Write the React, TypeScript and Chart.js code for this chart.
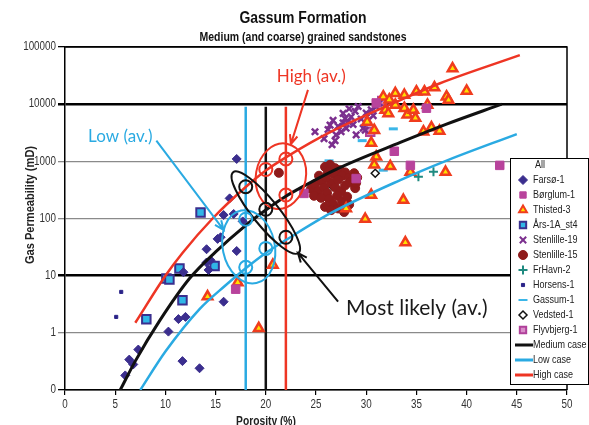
import React, { useEffect, useRef } from 'react';
import { Chart, registerables } from 'chart.js';
import { drawPoint } from 'chart.js/helpers';

Chart.register(...registerables);

// ---------------- data ----------------
const xMin = 0;
const xMax = 50;
const xStep = 5;
const yMin = 0.1;
const yMax = 100000;
const yTickValues = [0.1, 1, 10, 100, 1000, 10000, 100000];
const yTickLabels = ['0', '1', '10', '100', '1000', '10000', '100000'];

// trend curves (porosity %, permeability mD)
const mediumPorosity = [5.5, 7, 9.4, 12.4, 15, 18, 20, 22, 23.4, 27, 33.4, 38, 43.5];
const mediumPerm = [0.1, 0.32, 1.6, 8.9, 26, 76, 141, 245, 339, 724, 2140, 4470, 10000];
const lowPorosity = [7.5, 10, 13.4, 16, 18, 20, 22, 26.5, 33.4, 37.7, 45];
const lowPerm = [0.1, 0.47, 2.6, 6.8, 13.5, 25, 42, 125, 470, 980, 3000];
const highPorosity = [7, 10, 11.7, 14.7, 18, 20, 22, 26.5, 33.5, 37.3, 45.3];
const highPerm = [1.5, 10, 25, 100, 355, 690, 1175, 3300, 12000, 23000, 72000];

// average porosity cut-offs (low / medium / high)
const avgPorosities = [18, 20, 22];
const avgLinePerm = [0.1, 9000];

// wells
const farsoe = [[17.1, 1100], [16.4, 225], [15.8, 115], [16.8, 120], [17.7, 89], [15.2, 44], [15.5, 47], [14.1, 29], [17.1, 27], [14.5, 18.6], [14.1, 17], [14.3, 12.6], [11.8, 11.5], [15.8, 3.5], [12.0, 1.9], [11.3, 1.74], [10.3, 1.05], [7.3, 0.51], [6.4, 0.34], [6.8, 0.28], [6.0, 0.18], [11.7, 0.32], [13.4, 0.24]];
const borglum = [[17.0, 5.8], [23.8, 275], [29.0, 500], [32.8, 1500], [31.0, 10500], [36.0, 8500], [34.4, 850], [43.3, 850]];
const thisted = [[31.7, 13500], [32.9, 15500], [33.8, 14400], [35.0, 16500], [35.8, 16500], [36.8, 19500], [38.0, 13500], [38.2, 11800], [38.6, 42000], [40.0, 17000], [32.3, 12000], [32.9, 9700], [31.9, 7900], [32.2, 6900], [33.8, 8500], [34.1, 6500], [34.7, 7900], [34.9, 5700], [36.1, 9700], [30.1, 4900], [30.8, 3500], [35.7, 3300], [36.5, 3900], [37.3, 3400], [30.5, 2100], [31.0, 1200], [30.8, 870], [32.4, 820], [34.4, 650], [37.9, 650], [30.5, 257], [33.7, 210], [28.0, 150], [29.9, 98], [33.9, 38], [20.7, 15.4], [17.2, 7.6], [14.2, 4.3], [19.3, 1.2]];
const ars = [[11.4, 13.4], [10.1, 8.9], [10.4, 8.6], [11.7, 3.7], [8.1, 1.73], [13.5, 127], [14.9, 14.7]];
const stenlille19 = [[24.9, 3300], [26.7, 5200], [26.6, 1950], [27.0, 2900], [27.2, 4100], [27.7, 4700], [28.2, 5000], [28.7, 4400], [29.2, 9100], [29.7, 3800], [29.9, 3500], [27.7, 6900], [28.5, 6000], [30.0, 7000], [29.5, 5500], [30.5, 8000], [31.0, 9000], [26.2, 3600], [25.8, 2500], [26.4, 4300], [27.5, 3300], [28.0, 3800], [28.9, 7500], [30.2, 5200], [31.3, 10500], [29.0, 2900], [26.9, 2300], [28.3, 8300], [30.7, 6300], [27.9, 5600]];
const stenlille15 = [[25.9, 800], [26.4, 870], [26.9, 760], [27.4, 700], [27.9, 640], [26.2, 650], [26.8, 600], [27.6, 560], [28.3, 520], [28.8, 620], [29.1, 520], [24.5, 330], [24.9, 400], [25.2, 300], [25.6, 450], [25.8, 350], [26.1, 280], [26.5, 420], [26.9, 350], [27.2, 480], [27.5, 300], [27.9, 380], [28.4, 430], [28.9, 340], [24.8, 250], [25.5, 230], [26.3, 220], [26.7, 180], [27.1, 250], [27.6, 200], [28.1, 240], [25.9, 160], [26.5, 140], [27.2, 150], [27.8, 130], [28.3, 175], [26.0, 530], [25.3, 560], [29.0, 420], [21.3, 630]];
const frhavn = [[35.2, 540], [36.7, 660]];
const horsens = [[5.6, 5.2], [5.1, 1.9]];
const gassum = [[32.7, 3700], [29.6, 2300], [26.3, 1020], [31.7, 700]];
const vedsted = [[30.9, 620], [26.6, 370]];
const flyvbjerg = [[31.6, 11400], [30.4, 3300]];

// ---------------- styles ----------------
const RED = '#EE3524';
const BLUE = '#2AAAE2';
const BLACK = '#111111';
const FONT_S = '"Liberation Sans", Arial, sans-serif';
const FONT_A = 'Lato, "Noto Sans", sans-serif';
const NARROW = 0.82;

type PS = { pointStyle: string; radius: number; bg: string; border: string; bw: number };
const sFarsoe: PS = { pointStyle: 'rectRot', radius: 4.5, bg: '#3B2E8E', border: '#3B2E8E', bw: 1 };
const sBorglum: PS = { pointStyle: 'rect', radius: 6, bg: '#B8439C', border: '#B8439C', bw: 1 };
const sThisted: PS = { pointStyle: 'triangle', radius: 5.5, bg: '#FFE000', border: '#F03C1E', bw: 2.5 };
const sArs: PS = { pointStyle: 'rect', radius: 6, bg: '#30B6E6', border: '#3A2F8F', bw: 2 };
const sSt19: PS = { pointStyle: 'crossRot', radius: 4.5, bg: '#7B2F8E', border: '#7B2F8E', bw: 2.5 };
const sSt15: PS = { pointStyle: 'circle', radius: 4.5, bg: '#8E1B1B', border: '#8E1B1B', bw: 1 };
const sFrhavn: PS = { pointStyle: 'cross', radius: 4.5, bg: '#1F8A80', border: '#1F8A80', bw: 2 };
const sHorsens: PS = { pointStyle: 'rect', radius: 2.2, bg: '#2A2388', border: '#2A2388', bw: 1 };
const sGassum: PS = { pointStyle: 'line', radius: 4.5, bg: '#3BB6E8', border: '#3BB6E8', bw: 3 };
const sVedsted: PS = { pointStyle: 'rectRot', radius: 4, bg: '#FFFFFF', border: '#111111', bw: 1.5 };
const sFlyv: PS = { pointStyle: 'rect', radius: 6, bg: '#D98DC9', border: '#B0409A', bw: 2 };

const seriesList: [string, number[][], PS][] = [
  ['Farsø-1', farsoe, sFarsoe],
  ['Børglum-1', borglum, sBorglum],
  ['Thisted-3', thisted, sThisted],
  ['Års-1A_st4', ars, sArs],
  ['Stenlille-19', stenlille19, sSt19],
  ['Stenlille-15', stenlille15, sSt15],
  ['FrHavn-2', frhavn, sFrhavn],
  ['Horsens-1', horsens, sHorsens],
  ['Gassum-1', gassum, sGassum],
  ['Vedsted-1', vedsted, sVedsted],
  ['Flyvbjerg-1', flyvbjerg, sFlyv],
];
const curveList: [string, number[], number[], string, number][] = [
  ['Medium case', mediumPorosity, mediumPerm, BLACK, 3],
  ['Low case', lowPorosity, lowPerm, BLUE, 2.5],
  ['High case', highPorosity, highPerm, RED, 2.5],
];
const avgColors = [BLUE, BLACK, RED];

// annotations (data coordinates; radii in px)
const ellipses = [
  { x: 21.5, y: 550, rx: 25, ry: 33, rot: 10, color: RED },
  { x: 18.3, y: 32, rx: 26, ry: 37, rot: -12, color: BLUE },
  { x: 20.0, y: 127, rx: 52, ry: 13, rot: 51, color: BLACK },
];
const smallCircles = [
  { x: 20, y: 720, color: RED }, { x: 22, y: 1100, color: RED }, { x: 22, y: 257, color: RED },
  { x: 18, y: 360, color: BLACK }, { x: 20, y: 145, color: BLACK }, { x: 22, y: 47, color: BLACK },
  { x: 18, y: 97, color: BLUE }, { x: 18, y: 14, color: BLUE }, { x: 20, y: 30, color: BLUE },
];
const arrows = [
  { x1: 9.1, y1: 2300, x2: 15.8, y2: 63, color: BLUE },
  { x1: 24.2, y1: 17800, x2: 22.5, y2: 2000, color: RED },
  { x1: 27.2, y1: 3.5, x2: 23.2, y2: 25, color: BLACK },
];
const labels = [
  { text: 'High (av.)', x: 21.1, y: 31000, color: RED, size: 17 },
  { text: 'Low (av.)', x: 2.3, y: 2700, color: BLUE, size: 17 },
  { text: 'Most likely (av.)', x: 28.0, y: 2.7, color: '#1a1a1a', size: 21 },
];

const pts = (arr: number[][]) => arr.map(([x, y]) => ({ x, y }));

function nText(ctx: CanvasRenderingContext2D, text: string, x: number, y: number, align: CanvasTextAlign) {
  ctx.save();
  ctx.translate(x, y);
  ctx.scale(NARROW, 1);
  ctx.textAlign = align;
  ctx.fillText(text, 0, 0);
  ctx.restore();
}

const overlay = {
  id: 'overlay',
  beforeDraw(chart: any) {
    const { ctx, width, height } = chart;
    ctx.save();
    ctx.fillStyle = '#fff';
    ctx.fillRect(0, 0, width, height);
    ctx.restore();
  },
  afterDatasetsDraw(chart: any) {
    const ctx = chart.ctx;
    const xs = chart.scales.x;
    const ys = chart.scales.y;
    const ca = chart.chartArea;
    ctx.save();
    ctx.strokeStyle = '#000';
    ctx.lineWidth = 1.5;
    ctx.beginPath();
    ctx.moveTo(ca.left, ca.top);
    ctx.lineTo(ca.right, ca.top);
    ctx.lineTo(ca.right, ca.bottom);
    ctx.stroke();
    ctx.lineWidth = 2;
    for (const e of ellipses) {
      ctx.strokeStyle = e.color;
      ctx.beginPath();
      ctx.ellipse(xs.getPixelForValue(e.x), ys.getPixelForValue(e.y), e.rx, e.ry, (e.rot * Math.PI) / 180, 0, Math.PI * 2);
      ctx.stroke();
    }
    for (const c of smallCircles) {
      ctx.strokeStyle = c.color;
      ctx.beginPath();
      ctx.arc(xs.getPixelForValue(c.x), ys.getPixelForValue(c.y), 6.5, 0, Math.PI * 2);
      ctx.stroke();
    }
    for (const a of arrows) {
      const x1 = xs.getPixelForValue(a.x1), y1 = ys.getPixelForValue(a.y1);
      const x2 = xs.getPixelForValue(a.x2), y2 = ys.getPixelForValue(a.y2);
      ctx.strokeStyle = a.color;
      ctx.lineWidth = 2;
      ctx.beginPath();
      ctx.moveTo(x1, y1);
      ctx.lineTo(x2, y2);
      const ang = Math.atan2(y2 - y1, x2 - x1);
      const L = 10;
      ctx.moveTo(x2 - L * Math.cos(ang - 0.4), y2 - L * Math.sin(ang - 0.4));
      ctx.lineTo(x2, y2);
      ctx.lineTo(x2 - L * Math.cos(ang + 0.4), y2 - L * Math.sin(ang + 0.4));
      ctx.stroke();
    }
    ctx.textBaseline = 'middle';
    ctx.textAlign = 'left';
    for (const l of labels) {
      ctx.fillStyle = l.color;
      ctx.font = `${l.size}px ${FONT_A}`;
      ctx.fillText(l.text, xs.getPixelForValue(l.x), ys.getPixelForValue(l.y));
    }
    ctx.restore();
  },
  afterDraw(chart: any) {
    const ctx = chart.ctx;
    const xs = chart.scales.x;
    const ys = chart.scales.y;
    const ca = chart.chartArea;
    ctx.save();
    // tick labels (narrow)
    ctx.fillStyle = '#333';
    ctx.font = `12px ${FONT_S}`;
    ctx.textBaseline = 'middle';
    yTickValues.forEach((v, i) => nText(ctx, yTickLabels[i], ca.left - 9, ys.getPixelForValue(v), 'right'));
    ctx.textBaseline = 'top';
    for (let v = xMin; v <= xMax; v += xStep) nText(ctx, String(v), xs.getPixelForValue(v), ca.bottom + 9, 'center');

    // legend box
    const bx = 510.5, by = 158.5, bw = 78, bh = 226;
    ctx.fillStyle = '#fff';
    ctx.fillRect(bx, by, bw, bh);
    ctx.strokeStyle = '#000';
    ctx.lineWidth = 1;
    ctx.strokeRect(bx, by, bw, bh);
    ctx.font = `11px ${FONT_S}`;
    ctx.textBaseline = 'middle';
    let y = 165;
    ctx.fillStyle = '#222';
    nText(ctx, 'All', 535, y, 'left');
    for (const [name, , s] of seriesList) {
      y += 15;
      ctx.fillStyle = s.bg;
      ctx.strokeStyle = s.border;
      ctx.lineWidth = Math.min(s.bw, 2);
      drawPoint(ctx, { pointStyle: s.pointStyle as any, radius: Math.min(s.radius, 4.5), rotation: 0, borderWidth: s.bw } as any, 523, y);
      ctx.fillStyle = '#222';
      nText(ctx, name, 533, y, 'left');
    }
    for (const [name, , , color] of curveList) {
      y += 15;
      ctx.strokeStyle = color;
      ctx.lineWidth = 3;
      ctx.beginPath();
      ctx.moveTo(515, y);
      ctx.lineTo(533, y);
      ctx.stroke();
      ctx.fillStyle = '#222';
      nText(ctx, name, 533, y, 'left');
    }
    // titles
    ctx.fillStyle = '#111';
    ctx.textBaseline = 'middle';
    ctx.font = `bold 17px ${FONT_S}`;
    nText(ctx, 'Gassum Formation', 303, 18, 'center');
    ctx.font = `bold 12.8px ${FONT_S}`;
    nText(ctx, 'Medium (and coarse) grained sandstones', 303, 37, 'center');
    // axis titles
    ctx.fillStyle = '#222';
    ctx.font = `bold 12.5px ${FONT_S}`;
    ctx.textBaseline = 'top';
    nText(ctx, 'Porosity (%)', 266, 415, 'center');
    ctx.translate(30, 205);
    ctx.rotate(-Math.PI / 2);
    ctx.textBaseline = 'middle';
    ctx.font = `bold 13.5px ${FONT_S}`;
    nText(ctx, 'Gas Permeability (mD)', 0, 0, 'center');
    ctx.restore();
  },
};

export default function App() {
  const ref = useRef<HTMLCanvasElement | null>(null);
  useEffect(() => {
    if (!ref.current) return;
    const datasets: any[] = [];
    curveList.forEach(([label, xs, ysArr, color, w]) => {
      datasets.push({
        type: 'line', label, data: xs.map((x, i) => ({ x, y: ysArr[i] })),
        borderColor: color, borderWidth: w, pointRadius: 0, fill: false,
        cubicInterpolationMode: 'monotone', order: 1,
      });
    });
    seriesList.forEach(([label, data, s]) => {
      datasets.push({
        type: 'scatter', label, data: pts(data), pointStyle: s.pointStyle,
        pointRadius: s.radius, pointBackgroundColor: s.bg, pointBorderColor: s.border,
        pointBorderWidth: s.bw, showLine: false, order: 5,
      });
    });
    avgPorosities.forEach((p, i) => {
      datasets.push({
        type: 'line', label: 'avg' + i, data: avgLinePerm.map((k) => ({ x: p, y: k })),
        borderColor: avgColors[i], borderWidth: 2.5, pointRadius: 0, tension: 0, fill: false, order: 8,
      });
    });
    const chart = new Chart(ref.current, {
      type: 'scatter',
      data: { datasets },
      plugins: [overlay],
      options: {
        animation: false,
        responsive: false,
        events: [],
        layout: { padding: { top: 47, right: 22, left: 0, bottom: 0 } },
        plugins: { legend: { display: false }, tooltip: { enabled: false }, title: { display: false } },
        scales: {
          x: {
            type: 'linear', min: xMin, max: xMax,
            ticks: { stepSize: xStep, display: false },
            grid: { drawOnChartArea: false, drawTicks: true, tickLength: 5, color: '#000', lineWidth: 1.2 },
            border: { color: '#000', width: 1.5 },
            afterFit: (s: any) => { s.height = 35; },
          },
          y: {
            type: 'logarithmic', min: yMin, max: yMax,
            afterBuildTicks: (s: any) => { s.ticks = yTickValues.map((v) => ({ value: v })); },
            ticks: { display: false },
            grid: {
              drawTicks: true, tickLength: 7,
              color: (c: any) => {
                const v = c.tick && c.tick.value;
                return v === 10 || v === 10000 || v === 0.1 || v === 100000 ? '#000' : '#8a8a8a';
              },
              lineWidth: (c: any) => {
                const v = c.tick && c.tick.value;
                return v === 10 || v === 10000 ? 2.5 : 1.3;
              },
            },
            border: { color: '#000', width: 1.5 },
            afterFit: (s: any) => { s.width = 65; },
          },
        },
      } as any,
    });
    return () => chart.destroy();
  }, []);
  return (
    <div style={{ position: 'fixed', left: 0, top: 0, width: 589, height: 425, background: '#fff' }}>
      <canvas ref={ref} width={589} height={425} style={{ width: 589, height: 425, display: 'block' }} />
    </div>
  );
}
